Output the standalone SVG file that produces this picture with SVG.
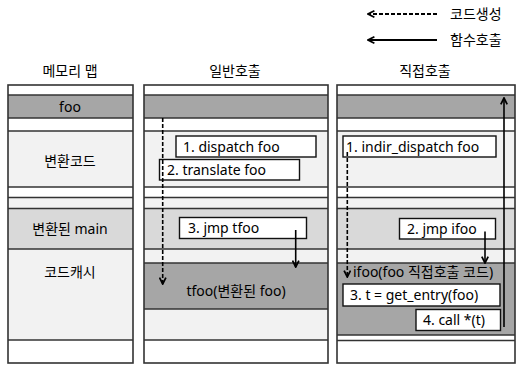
<svg xmlns="http://www.w3.org/2000/svg" width="516" height="365" viewBox="0 0 516 365">
<style>
text{font-family:"Noto Sans","Noto Sans CJK KR",sans-serif;font-size:14px;fill:#000}
.c{text-anchor:middle}
.col{fill:none;stroke:#333;stroke-width:1.6}
.ln{stroke:#333;stroke-width:1.4}
.w{fill:#fff}.l{fill:#f2f2f2}.m{fill:#d9d9d9}.d{fill:#a6a6a6}
.bx{fill:#fff;stroke:#111;stroke-width:1.4}
.a{fill:none;stroke:#000;stroke-width:1.6}
.lg{stroke-width:2}
.dash{stroke-dasharray:4 2}
</style>
<defs>
<marker id="ah" viewBox="0 0 10 10" refX="9" refY="5" markerWidth="8" markerHeight="8" markerUnits="userSpaceOnUse" orient="auto">
<path d="M1,1 L9,5 L1,9" fill="none" stroke="#000" stroke-width="2.2"/>
</marker>
</defs>
<rect width="516" height="365" fill="#fff"/>
<g id="legend">
<line class="a lg dash" x1="437" y1="14" x2="368" y2="14" marker-end="url(#ah)"/>
<text x="450" y="19">코드생성</text>
<line class="a lg" x1="437" y1="40" x2="368" y2="40" marker-end="url(#ah)"/>
<text x="450" y="45">함수호출</text>
</g>
<g id="headers">
<text class="c" x="70" y="76">메모리 맵</text>
<text class="c" x="235" y="76">일반호출</text>
<text class="c" x="425" y="76">직접호출</text>
</g>
<g id="col-memmap">
<rect class="w" x="8" y="85" width="125" height="10"/>
<rect class="d" x="8" y="95" width="125" height="23"/>
<rect class="w" x="8" y="118" width="125" height="13"/>
<rect class="l" x="8" y="131" width="125" height="56"/>
<rect class="w" x="8" y="187" width="125" height="10.5"/>
<rect class="l" x="8" y="197.5" width="125" height="11"/>
<rect class="m" x="8" y="208.5" width="125" height="40.5"/>
<rect class="l" x="8" y="249" width="125" height="91"/>
<rect class="w" x="8" y="340" width="125" height="23"/>
<g class="ln">
<line x1="8" y1="95" x2="133" y2="95"/><line x1="8" y1="118" x2="133" y2="118"/>
<line x1="8" y1="131" x2="133" y2="131"/><line x1="8" y1="187" x2="133" y2="187"/>
<line x1="8" y1="197.5" x2="133" y2="197.5"/><line x1="8" y1="208.5" x2="133" y2="208.5"/>
<line x1="8" y1="249" x2="133" y2="249"/><line x1="8" y1="340" x2="133" y2="340"/>
</g>
<rect class="col" x="8" y="85" width="125" height="278"/>
<text class="c" x="70" y="112">foo</text>
<text class="c" x="70" y="166">변환코드</text>
<text class="c" x="70" y="234">변환된 main</text>
<text class="c" x="70" y="277">코드캐시</text>
</g>
<g id="col-normal">
<rect class="w" x="144" y="85" width="184" height="10"/>
<rect class="d" x="144" y="95" width="184" height="23"/>
<rect class="w" x="144" y="118" width="184" height="13"/>
<rect class="l" x="144" y="131" width="184" height="56"/>
<rect class="w" x="144" y="187" width="184" height="10.5"/>
<rect class="l" x="144" y="197.5" width="184" height="11"/>
<rect class="m" x="144" y="208.5" width="184" height="40.5"/>
<rect class="l" x="144" y="249" width="184" height="14"/>
<rect class="d" x="144" y="263" width="184" height="46"/>
<rect class="l" x="144" y="309" width="184" height="31"/>
<rect class="w" x="144" y="340" width="184" height="23"/>
<g class="ln">
<line x1="144" y1="95" x2="328" y2="95"/><line x1="144" y1="118" x2="328" y2="118"/>
<line x1="144" y1="131" x2="328" y2="131"/><line x1="144" y1="187" x2="328" y2="187"/>
<line x1="144" y1="197.5" x2="328" y2="197.5"/><line x1="144" y1="208.5" x2="328" y2="208.5"/>
<line x1="144" y1="249" x2="328" y2="249"/><line x1="144" y1="263" x2="328" y2="263"/>
<line x1="144" y1="309" x2="328" y2="309"/><line x1="144" y1="340" x2="328" y2="340"/>
</g>
<rect class="col" x="144" y="85" width="184" height="278"/>
<text class="c" x="236" y="296">tfoo(변환된 foo)</text>
</g>
<g id="n1-dispatch">
<rect class="bx" x="176" y="136" width="140" height="21"/>
<text x="183" y="152">1. dispatch  foo</text>
</g>
<g id="n2-translate">
<rect class="bx" x="159.5" y="159.5" width="140" height="20.5"/>
<text x="167" y="175">2. translate  foo</text>
</g>
<g id="n3-jmp-tfoo">
<rect class="bx" x="179.5" y="217.5" width="127" height="21"/>
<text x="188" y="233">3. jmp tfoo</text>
</g>
<g id="col-direct">
<rect class="w" x="337" y="85" width="178" height="10"/>
<rect class="d" x="337" y="95" width="178" height="23"/>
<rect class="w" x="337" y="118" width="178" height="13"/>
<rect class="l" x="337" y="131" width="178" height="56"/>
<rect class="w" x="337" y="187" width="178" height="10.5"/>
<rect class="l" x="337" y="197.5" width="178" height="11"/>
<rect class="m" x="337" y="208.5" width="178" height="40.5"/>
<rect class="l" x="337" y="249" width="178" height="14"/>
<rect class="d" x="337" y="263" width="178" height="72"/>
<rect class="w" x="337" y="335" width="178" height="28"/>
<g class="ln">
<line x1="337" y1="95" x2="515" y2="95"/><line x1="337" y1="118" x2="515" y2="118"/>
<line x1="337" y1="131" x2="515" y2="131"/><line x1="337" y1="187" x2="515" y2="187"/>
<line x1="337" y1="197.5" x2="515" y2="197.5"/><line x1="337" y1="208.5" x2="515" y2="208.5"/>
<line x1="337" y1="249" x2="515" y2="249"/><line x1="337" y1="263" x2="515" y2="263"/>
<line x1="337" y1="335" x2="515" y2="335"/><line x1="337" y1="340.5" x2="515" y2="340.5"/>
</g>
<rect class="col" x="337" y="85" width="178" height="278"/>
<text x="353" y="277">ifoo(foo 직접호출 코드)</text>
</g>
<g id="n4-indir">
<rect class="bx" x="343" y="136" width="153" height="21"/>
<text x="346" y="152">1. indir_dispatch  foo</text>
</g>
<g id="n5-jmp-ifoo">
<rect class="bx" x="399.5" y="218.5" width="96" height="20.5"/>
<text x="407" y="234">2. jmp ifoo</text>
</g>
<g id="n6-get-entry">
<rect class="bx" x="343" y="284" width="157" height="22"/>
<text x="350" y="300">3. t = get_entry(foo)</text>
</g>
<g id="n7-call">
<rect class="bx" x="416" y="309.5" width="84.5" height="21"/>
<text x="423" y="325">4. call *(t)</text>
</g>
<g id="connectors">
<line class="a dash" x1="162.7" y1="118" x2="162.7" y2="284" marker-end="url(#ah)"/>
<line class="a" x1="295.7" y1="230" x2="295.7" y2="267" marker-end="url(#ah)"/>
<line class="a dash" x1="347.3" y1="152" x2="347.3" y2="277" marker-end="url(#ah)"/>
<line class="a" x1="485" y1="231.5" x2="485" y2="263" marker-end="url(#ah)"/>
<line class="a" x1="504" y1="327" x2="504" y2="98" marker-end="url(#ah)"/>
</g>
</svg>
